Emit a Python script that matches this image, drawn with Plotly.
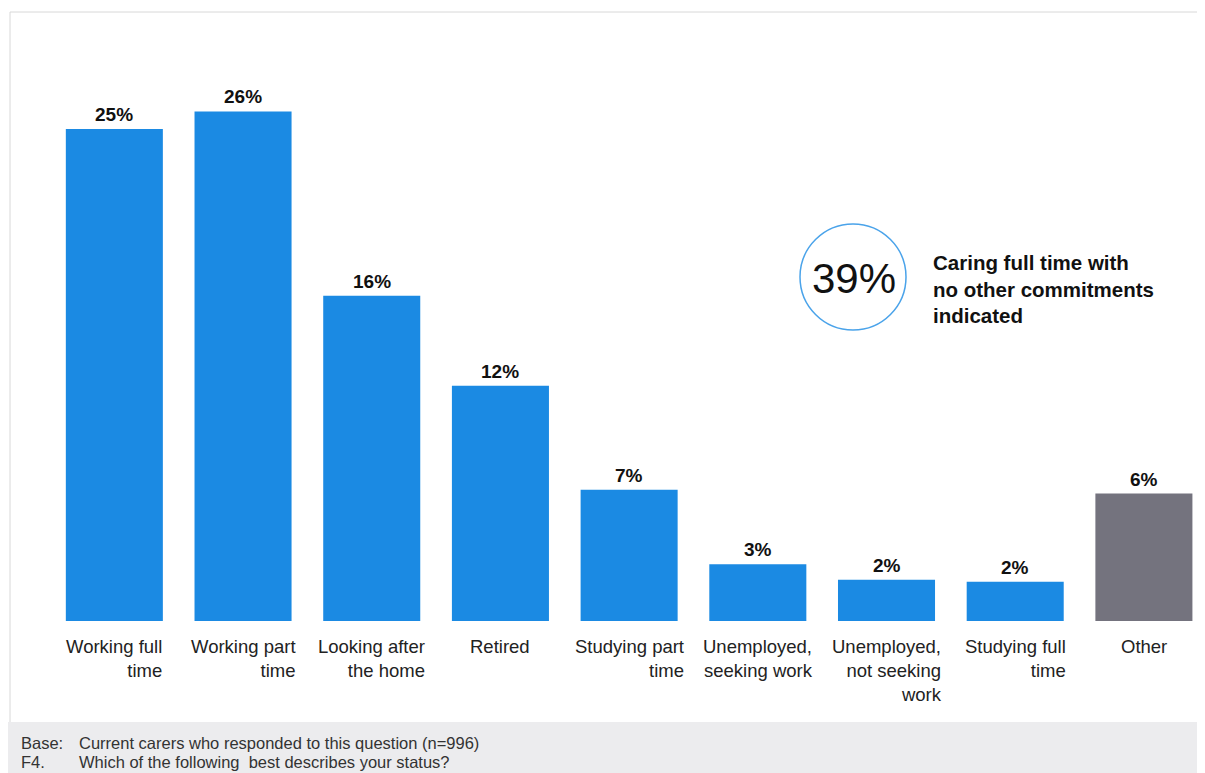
import plotly.graph_objects as go

categories = ["Working full<br>time", "Working part<br>time", "Looking after<br>the home", "Retired",
              "Studying part<br>time", "Unemployed,<br>seeking work", "Unemployed,<br>not seeking<br>work",
              "Studying full<br>time", "Other"]
values = [25.1, 26.0, 16.6, 12.0, 6.7, 2.9, 2.1, 2.0, 6.5]
value_labels = ["25%", "26%", "16%", "12%", "7%", "3%", "2%", "2%", "6%"]
bar_colors = ["#1b8ae3"] * 8 + ["#74737e"]
callout_value = "39%"
callout_text = "Caring full time with<br>no other commitments<br>indicated"
footer_lines = ["Base:", "F4."]
footer_texts = ["Current carers who responded to this question (n=996)",
                "Which of the following  best describes your status?"]

FONT = "Liberation Sans, Arial, Helvetica, sans-serif"
xs = list(range(len(categories)))

fig = go.Figure()
fig.add_trace(go.Bar(x=xs, y=values, marker=dict(color=bar_colors, line=dict(width=0)),
                     hoverinfo="skip", showlegend=False))


def px_x(x):
    return (x - 50) / 1154


def px_y(y):
    return (621 - y) / 588


ann = []
for i, (c, v, t) in enumerate(zip(categories, values, value_labels)):
    ann.append(dict(x=i, y=v, xref="x", yref="y", text=t, showarrow=False, yanchor="bottom",
                    yshift=2, font=dict(family=FONT, size=19, color="#111111", weight="bold")))
    ann.append(dict(x=i, y=0, xref="x", yref="y", text=c, showarrow=False, yanchor="top",
                    yshift=-13, align="right", xanchor="center",
                    font=dict(family=FONT, size=18.5, color="#222222")))

# callout
ann.append(dict(x=px_x(854), y=px_y(278), xref="paper", yref="paper",
                text=callout_value, showarrow=False, xanchor="center", yanchor="middle",
                font=dict(family=FONT, size=42, color="#111111")))
ann.append(dict(x=px_x(931), y=px_y(289), xref="paper", yref="paper",
                text=callout_text, showarrow=False, xanchor="left", yanchor="middle", align="left",
                font=dict(family=FONT, size=20.5, color="#111111", weight="bold")))

# footer
for k, (a, b) in enumerate(zip(footer_lines, footer_texts)):
    yp = px_y(743 + 19 * k)
    ann.append(dict(x=px_x(19), y=yp, xref="paper", yref="paper", text=a, showarrow=False,
                    xanchor="left", yanchor="middle", font=dict(family=FONT, size=16.5, color="#333333")))
    ann.append(dict(x=px_x(77), y=yp, xref="paper", yref="paper", text=b, showarrow=False,
                    xanchor="left", yanchor="middle", font=dict(family=FONT, size=16.5, color="#333333")))

shapes = [
    dict(type="rect", xref="paper", yref="paper", x0=px_x(0), x1=px_x(1210), y0=px_y(775), y1=px_y(722),
         fillcolor="#ececee", line=dict(width=0), layer="below"),
    dict(type="line", xref="paper", yref="paper", x0=px_x(10), x1=px_x(1210), y0=px_y(12), y1=px_y(12),
         line=dict(color="#d8d8d8", width=1)),
    dict(type="line", xref="paper", yref="paper", x0=px_x(10), x1=px_x(10), y0=px_y(12), y1=px_y(722),
         line=dict(color="#d8d8d8", width=1)),
    dict(type="circle", xref="paper", yref="paper", x0=px_x(800), x1=px_x(906), y0=px_y(330), y1=px_y(224),
         line=dict(color="#4aa3ea", width=1.5)),
]

# page body has an 8px margin, so the figure is laid out 8px smaller and shifted
fig.update_layout(
    width=1197, height=765,
    margin=dict(l=42, r=1, t=25, b=152),
    paper_bgcolor="white", plot_bgcolor="white",
    bargap=0.246,
    xaxis=dict(range=[-0.5, 8.467], visible=False, fixedrange=True),
    yaxis=dict(range=[0, 30], visible=False, fixedrange=True),
    annotations=ann, shapes=shapes,
    font=dict(family=FONT),
)
fig.write_html("out.html")
